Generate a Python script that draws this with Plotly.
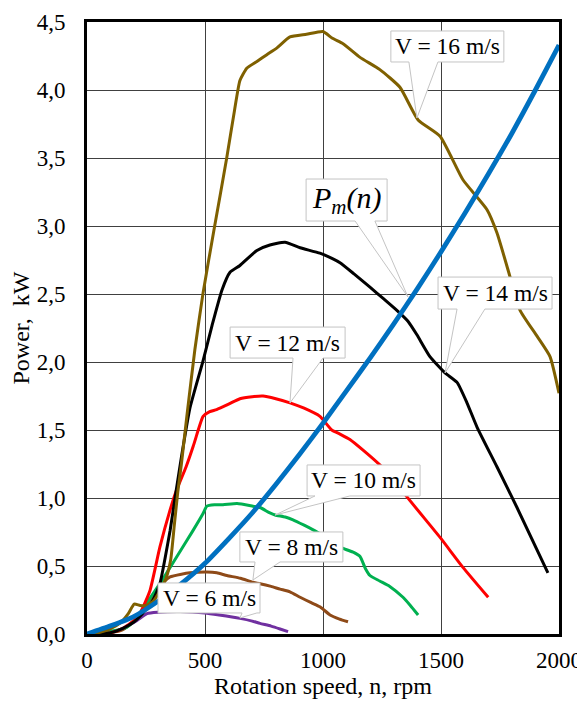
import plotly.graph_objects as go

# ---------------- data ----------------
n16 = [0, 50, 100, 140, 175, 200, 225, 250, 280, 310, 335, 355, 370, 385, 400, 423, 457, 492, 540, 592,
       625, 648, 677, 720, 762, 805, 860, 930, 1000, 1040, 1085, 1157, 1241, 1326, 1403, 1496, 1593, 1695,
       1737, 1792, 1835, 1907, 1962, 2000]
p16 = [0, 0.01, 0.04, 0.08, 0.15, 0.22, 0.21, 0.21, 0.24, 0.32, 0.41, 0.55, 0.80, 1.05, 1.25, 1.60, 2.09, 2.51,
       2.99, 3.50, 3.85, 4.07, 4.16, 4.21, 4.26, 4.31, 4.39, 4.41, 4.43, 4.38, 4.34, 4.24, 4.15, 4.02, 3.78,
       3.66, 3.34, 3.12, 2.95, 2.63, 2.38, 2.19, 2.04, 1.77]

n14 = [0, 100, 150, 200, 250, 280, 309, 330, 352, 373, 400, 436, 492, 530, 572, 606, 648, 720, 775, 839,
       903, 987, 1040, 1072, 1130, 1199, 1260, 1313, 1360, 1398, 1453, 1517, 1568, 1610, 1653, 1737, 1822, 1953]
p14 = [0, 0.01, 0.04, 0.09, 0.18, 0.25, 0.37, 0.55, 0.76, 1.00, 1.30, 1.66, 2.01, 2.27, 2.53, 2.66, 2.71, 2.82,
       2.86, 2.88, 2.84, 2.80, 2.76, 2.73, 2.65, 2.55, 2.46, 2.38, 2.30, 2.20, 2.04, 1.92, 1.85, 1.70, 1.52,
       1.23, 0.93, 0.45]

n12 = [0, 100, 150, 200, 230, 267, 309, 350, 380, 420, 450, 475, 492, 520, 549, 600, 648, 700, 746, 800,
       860, 920, 987, 1037, 1072, 1114, 1171, 1243, 1300, 1355, 1496, 1593, 1700]
p12 = [0, 0.01, 0.04, 0.10, 0.17, 0.32, 0.64, 0.90, 1.06, 1.23, 1.38, 1.52, 1.60, 1.635, 1.65, 1.69, 1.73,
       1.745, 1.75, 1.73, 1.70, 1.66, 1.60, 1.50, 1.47, 1.43, 1.35, 1.24, 1.14, 1.01, 0.71, 0.49, 0.27]

n10 = [0, 55, 100, 169, 210, 254, 309, 345, 381, 449, 490, 508, 540, 576, 636, 703, 733, 775, 797, 840,
       873, 920, 975, 1030, 1085, 1130, 1157, 1180, 1199, 1240, 1283, 1339, 1370, 1403]
p10 = [0, 0.01, 0.02, 0.05, 0.12, 0.23, 0.37, 0.47, 0.57, 0.76, 0.88, 0.94, 0.95, 0.95, 0.96, 0.94, 0.93,
       0.89, 0.875, 0.86, 0.84, 0.80, 0.75, 0.69, 0.63, 0.60, 0.57, 0.48, 0.43, 0.39, 0.35, 0.27, 0.21, 0.14]

n8 = [0, 100, 150, 200, 250, 300, 330, 352, 400, 436, 508, 550, 593, 650, 703, 733, 780, 818, 860, 903,
      950, 987, 1030, 1070, 1106]
p8 = [0, 0.01, 0.03, 0.10, 0.20, 0.32, 0.39, 0.42, 0.44, 0.45, 0.456, 0.45, 0.43, 0.41, 0.38, 0.37, 0.35,
      0.33, 0.31, 0.27, 0.23, 0.20, 0.14, 0.11, 0.09]

n6 = [0, 60, 100, 150, 212, 254, 301, 394, 500, 560, 648, 700, 733, 780, 818, 852]
p6 = [0, 0.0, 0.01, 0.04, 0.10, 0.15, 0.16, 0.165, 0.155, 0.14, 0.115, 0.095, 0.078, 0.058, 0.037, 0.017]

nPm = [0, 100, 200, 300, 400, 500, 600, 700, 800, 900, 1000, 1100, 1200, 1300, 1400, 1500, 1600, 1700,
       1800, 1900, 2000]
pPm = [0, 0.06, 0.13, 0.24, 0.37, 0.52, 0.70, 0.89, 1.10, 1.32, 1.55, 1.79, 2.03, 2.28, 2.54, 2.81, 3.09,
       3.38, 3.68, 4.00, 4.33]

x_ticks = [0, 500, 1000, 1500, 2000]
x_ticktext = ["0", "500", "1000", "1500", "2000"]
y_ticks = [0, 0.5, 1.0, 1.5, 2.0, 2.5, 3.0, 3.5, 4.0, 4.5]
y_ticktext = ["0,0", "0,5", "1,0", "1,5", "2,0", "2,5", "3,0", "3,5", "4,0", "4,5"]

series = [
    ("V = 6 m/s", n6, p6, "#7030A0"),
    ("V = 8 m/s", n8, p8, "#8E4A18"),
    ("V = 10 m/s", n10, p10, "#00B050"),
    ("V = 12 m/s", n12, p12, "#FF0000"),
    ("V = 14 m/s", n14, p14, "#000000"),
    ("V = 16 m/s", n16, p16, "#7F6000"),
]

# ---------------- figure ----------------
# the page body adds an 8 px margin, so the figure is shifted to compensate
FONT = "Liberation Serif, Tinos, DejaVu Serif, Times New Roman, serif"
W, H = 585, 691
ML, MR, MT, MB = 79, 34, 14, 65
X_RANGE = [0, 2000]
Y_RANGE = [0, 4.5]
PX_X = (W - ML - MR) / (X_RANGE[1] - X_RANGE[0])
PX_Y = (H - MT - MB) / (Y_RANGE[1] - Y_RANGE[0])

fig = go.Figure()
for name, xs, ys, col in series:
    fig.add_trace(go.Scatter(x=xs, y=ys, mode="lines", name=name,
                             line=dict(color=col, width=3, shape="spline", smoothing=0.5)))
fig.add_trace(go.Scatter(x=nPm, y=pPm, mode="lines", name="Pm(n)",
                         line=dict(color="#0070C0", width=4.8, shape="spline", smoothing=0.6)))

# callouts: (text, box centre n, box centre P, box w px, box h px, wedge base n0, n1, tip n, tip P, font size)
callouts = [
    ("V = 16 m/s", 1527, 4.320, 113, 31, 1364, 1487, 1398, 3.794, 23.5),
    ("<i>P<sub>m</sub>(n)</i>", 1100, 3.191, 81, 42, 1136, 1220, 1360, 2.478, 30),
    ("V = 14 m/s", 1729, 2.507, 114, 32, 1568, 1686, 1517, 1.919, 23.5),
    ("V = 12 m/s", 850, 2.143, 115, 31, 873, 1000, 860, 1.699, 23.5),
    ("V = 10 m/s", 1172, 1.129, 113, 31, 966, 1114, 797, 0.875, 23.5),
    ("V = 8 m/s", 866, 0.640, 103, 30, 712, 818, 703, 0.397, 23.5),
    ("V = 6 m/s", 517, 0.265, 102, 30, 657, 720, 648, 0.118, 23.5),
]

shapes = []
annotations = []
for text, cx, cy, bw, bh, b0, b1, tx, ty, fs in callouts:
    hw = bw / 2 / PX_X
    hh = bh / 2 / PX_Y
    x0, x1 = cx - hw, cx + hw
    yb, yt = cy - hh, cy + hh
    path = (f"M {x0},{yt} L {x1},{yt} L {x1},{yb} L {b1},{yb} L {tx},{ty} "
            f"L {b0},{yb} L {x0},{yb} Z")
    shapes.append(dict(type="path", xref="x", yref="y", path=path, fillcolor="white",
                       line=dict(color="#c4c4c4", width=1), layer="above"))
    annotations.append(dict(x=cx, y=cy, xref="x", yref="y", text=text, showarrow=False,
                            font=dict(family=FONT, size=fs, color="black"),
                            xanchor="center", yanchor="middle"))

axis_common = dict(showgrid=True, gridcolor="#404040", gridwidth=1.2, zeroline=False,
                   showline=True, linecolor="black", linewidth=2.6, mirror=True, ticks="",
                   automargin=False,
                   tickfont=dict(family=FONT, size=23, color="black"))

fig.update_layout(
    width=W, height=H,
    margin=dict(l=ML, r=MR, t=MT, b=MB, autoexpand=False),
    paper_bgcolor="white", plot_bgcolor="white",
    showlegend=False,
    font=dict(family=FONT, size=23, color="black"),
    xaxis=dict(range=X_RANGE, tickvals=x_ticks, ticktext=x_ticktext, ticklabelstandoff=4,
               title=dict(text="Rotation speed, n, rpm", standoff=8,
                          font=dict(family=FONT, size=24)),
               **axis_common),
    yaxis=dict(range=Y_RANGE, tickvals=y_ticks, ticktext=y_ticktext, ticklabelstandoff=14,
               title=dict(text="Power,  kW", standoff=2,
                          font=dict(family=FONT, size=24)),
               **axis_common),
    shapes=shapes,
    annotations=annotations,
)

fig.write_html("out.html")
